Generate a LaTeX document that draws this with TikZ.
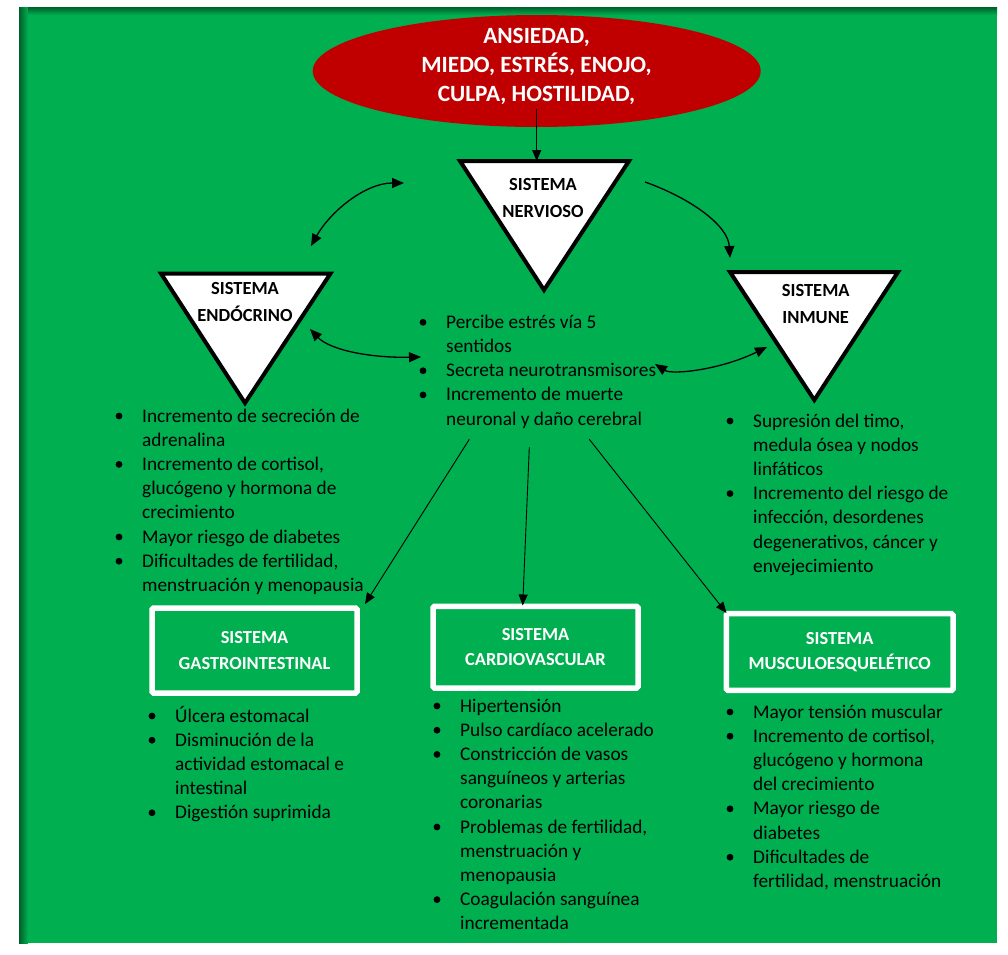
\documentclass[tikz,border=0pt]{standalone}
\usepackage{fontspec}
\setmainfont{Carlito}
\usetikzlibrary{arrows.meta,shapes.geometric}
\definecolor{bg}{HTML}{00AF50}
\definecolor{bgdark}{HTML}{005F2A}
\definecolor{emo}{HTML}{C00000}
\newcommand\blist[4]{%
  \foreach \k/\t [count=\i from 0] in {#4}{%
    \node[txt] (#1\i) at (#2,#3+24.2*\i) {\t};
    \if b\k\fill (#2-23,#3+24.2*\i-6) circle (3.4);\fi
  }}
\begin{document}
\begin{tikzpicture}[x=1pt,y=-1pt,
  txt/.style={anchor=base west,inner sep=0pt,font=\fontsize{19.3}{24}\selectfont},
  tri/.style={draw=black,fill=white,line width=4pt,line join=miter},
  tritxt/.style={align=center,inner sep=0pt,font=\bfseries\fontsize{18.5}{27}\selectfont},
  sysbox/.style={draw=white,line width=5.5pt,rounded corners=1.5pt,text=white,align=center,
    inner sep=0pt,font=\bfseries\fontsize{18.4}{25.5}\selectfont},
  tip/.style={Triangle[length=11pt,width=9pt]},
  arr/.style={-{Triangle[length=11pt,width=9pt]},line width=0.9pt},
  carr/.style={-{Triangle[length=12pt,width=10pt]},line width=1.3pt},
  darr/.style={{Triangle[length=12pt,width=10pt]}-{Triangle[length=12pt,width=10pt]},line width=1.3pt},
]
\useasboundingbox (0,0) rectangle (1008,954);
\fill[white] (0,0) rectangle (1008,954);
% background
\fill[bg] (19,7) rectangle (997,943);
\shade[left color=bgdark,right color=bg] (19,7) rectangle (28,943);
\shade[top color=bgdark,bottom color=bg] (28,7) rectangle (997,15);

% emotions ellipse
\node[ellipse,fill=emo,minimum width=448pt,minimum height=112pt,inner sep=0pt] (emo) at (536.7,71) {};
\node[align=center,text=white,inner sep=0pt,font=\bfseries\fontsize{23.3}{29}\selectfont] (emotxt) at (536.5,66)
  {ANSIEDAD,\\MIEDO, ESTRÉS, ENOJO,\\CULPA, HOSTILIDAD,};

% triangles
\coordinate (n1) at (460,161); \coordinate (n2) at (629,161); \coordinate (n3) at (544,290);
\draw[tri] (n1) -- (n2) -- (n3) -- cycle;
\node[tritxt] (ntxt) at (543,197.5) {SISTEMA\\NERVIOSO};

\coordinate (e1) at (161,273.5); \coordinate (e2) at (330.5,273.5); \coordinate (e3) at (245,403);
\draw[tri] (e1) -- (e2) -- (e3) -- cycle;
\node[tritxt] (etxt) at (245,302) {SISTEMA\\ENDÓCRINO};

\coordinate (i1) at (730,272); \coordinate (i2) at (898,272); \coordinate (i3) at (814.3,400);
\draw[tri] (i1) -- (i2) -- (i3) -- cycle;
\node[tritxt] (itxt) at (815.7,303.5) {SISTEMA\\INMUNE};

% system boxes
\node[sysbox,minimum width=205pt,minimum height=85pt] (gas) at (254.5,650.5) {SISTEMA\\GASTROINTESTINAL};
\node[sysbox,minimum width=205pt,minimum height=81.7pt] (car) at (535.5,647.2) {SISTEMA\\CARDIOVASCULAR};
\node[sysbox,minimum width=226.7pt,minimum height=76.6pt] (mus) at (839.7,652) {SISTEMA\\MUSCULOESQUELÉTICO};

% connectors
\coordinate (emoout) at (536.7,109);
\draw[arr] (emoout) -- (n1 -| emoout);

\coordinate (a1s) at (311,246); \coordinate (a1e) at (404,183);
\draw[darr] (a1s) .. controls (330,212) and (365,183) .. (a1e);

\coordinate (a2s) at (645,182); \coordinate (a2e) at (730,258);
\draw[carr] (a2s) .. controls (690,198) and (728,225) .. (a2e);

\coordinate (a3s) at (310,329); \coordinate (a3e) at (421,357);
\draw[darr] (a3s) .. controls (330,350) and (370,358) .. (a3e);

\coordinate (a4s) at (655,364); \coordinate (a4e) at (767,347);
\draw[darr] (a4s) .. controls (672,375) and (720,370) .. (a4e);

\coordinate (s1) at (469.3,439.3); \coordinate (s2) at (529.3,447.3); \coordinate (s3) at (589.3,439.3);
\coordinate (g1) at (365,604); \coordinate (g2) at (522.7,605.5); \coordinate (g3) at (726.5,613);
\draw[arr] (s1) -- (g1);
\draw[arr] (s2) -- (g2);
\draw[arr] (s3) -- (g3);

% lists
\blist{cen}{446}{328.3}{b/Percibe estrés vía 5, c/sentidos, b/Secreta neurotransmisores,
  b/Incremento de muerte, c/neuronal y daño cerebral}
\blist{end}{142}{422}{b/Incremento de secreción de, c/adrenalina, b/{Incremento de cortisol,},
  c/glucógeno y hormona de, c/crecimiento, b/Mayor riesgo de diabetes,
  b/{Dificultades de fertilidad,}, c/menstruación y menopausia}
\blist{inm}{753}{427}{b/{Supresión del timo,}, c/medula ósea y nodos, c/linfáticos,
  b/Incremento del riesgo de, c/{infección, desordenes}, c/{degenerativos, cáncer y}, c/envejecimiento}
\blist{gasl}{175}{722}{b/Úlcera estomacal, b/Disminución de la, c/actividad estomacal e,
  c/intestinal, b/Digestión suprimida}
\blist{carl}{460}{712}{b/Hipertensión, b/Pulso cardíaco acelerado, b/Constricción de vasos,
  c/sanguíneos y arterias, c/coronarias, b/{Problemas de fertilidad,}, c/menstruación y,
  c/menopausia, b/Coagulación sanguínea, c/incrementada}
\blist{musl}{753}{718}{b/Mayor tensión muscular, b/{Incremento de cortisol,}, c/glucógeno y hormona,
  c/del crecimiento, b/Mayor riesgo de, c/diabetes, b/Dificultades de, c/{fertilidad, menstruación}}
\end{tikzpicture}
\end{document}
